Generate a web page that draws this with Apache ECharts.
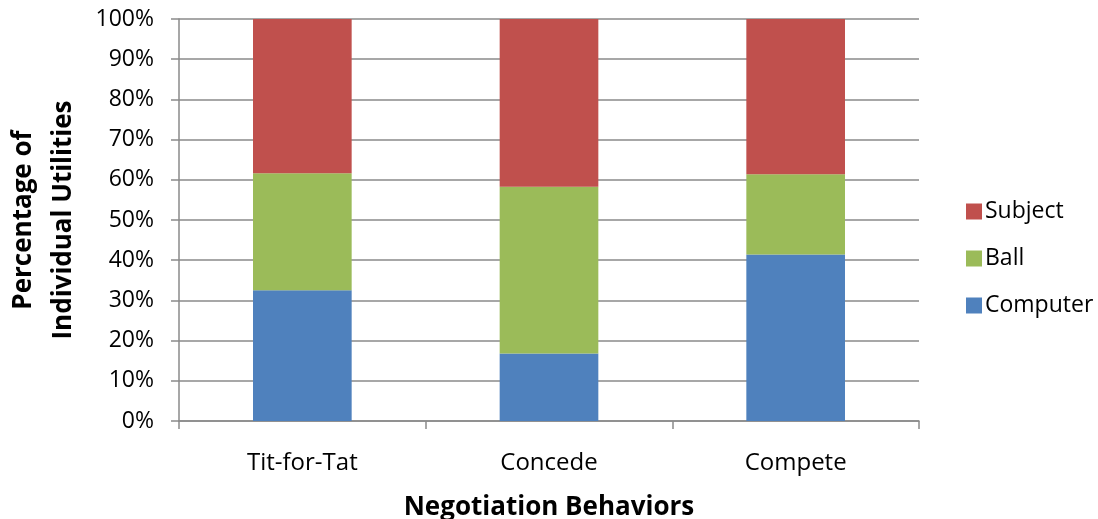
<!DOCTYPE html>
<html>
<head>
<meta charset="utf-8">
<script src="https://cdn.jsdelivr.net/npm/echarts@6/dist/echarts.min.js"></script>
<style>
    html, body {margin: 0; padding: 0; background: #fff;}
    #chart {width: 1098px; height: 519px;}
</style>
</head>
<body>
<div id="chart"></div>
<script>
//类别
var categories = ['Tit-for-Tat', 'Concede', 'Compete'];
//各部分百分比
var computerVals = [32.5, 16.8, 41.4];
var ballVals = [29.1, 41.5, 20.0];
var subjectVals = [38.4, 41.7, 38.6];
//y轴刻度
var yTicks = [0, 10, 20, 30, 40, 50, 60, 70, 80, 90, 100];

var font = 'Open Sans';
var gridColor = '#8a8a8a';

function makeSeries(name, data, color) {
    return {
        name: name,
        type: 'bar',
        stack: 'total',
        barWidth: '40%',
        data: data,
        itemStyle: {color: color}
    };
}

var chart = echarts.init(document.getElementById('chart'));
var option = {
    animation: false,
    grid: {left: 179, right: 179, top: 19, bottom: 98, outerBoundsMode: 'none', containLabel: false},
    legend: {
        orient: 'vertical',
        left: 961,
        top: 195,
        itemWidth: 16,
        itemHeight: 16,
        itemGap: 24,
        icon: 'rect',
        data: ['Subject', 'Ball', 'Computer'],
        textStyle: {fontFamily: font, fontSize: 23, color: '#000', padding: [0, 0, 0, -2]}
    },
    xAxis: {
        type: 'category',
        data: categories,
        name: 'Negotiation Behaviors',
        nameLocation: 'middle',
        nameGap: 74,
        nameTextStyle: {fontFamily: font, fontSize: 26, fontWeight: 'bold', color: '#000'},
        axisLine: {lineStyle: {color: gridColor, width: 1.5}},
        axisTick: {show: true, length: 8, lineStyle: {color: gridColor, width: 1.5}},
        axisLabel: {fontFamily: font, fontSize: 24, color: '#000', margin: 30}
    },
    yAxis: {
        type: 'value',
        min: yTicks[0],
        max: yTicks[yTicks.length - 1],
        interval: 10,
        name: 'Percentage of\nIndividual Utilities',
        nameLocation: 'middle',
        nameRotate: 90,
        nameGap: 95,
        nameTextStyle: {fontFamily: font, fontSize: 26, fontWeight: 'bold', color: '#000', lineHeight: 40},
        axisLine: {show: true, lineStyle: {color: gridColor, width: 1.5}},
        axisTick: {show: true, length: 8, lineStyle: {color: gridColor, width: 1.5}},
        axisLabel: {
            fontFamily: font, fontSize: 23, color: '#000', margin: 25,
            formatter: function (v) { return v + '%'; }
        },
        splitLine: {show: true, lineStyle: {color: gridColor, width: 1.5}}
    },
    series: [
        makeSeries('Computer', computerVals, '#4F81BD'),
        makeSeries('Ball', ballVals, '#9BBB59'),
        makeSeries('Subject', subjectVals, '#C0504D')
    ]
};
chart.setOption(option);
</script>
</body>
</html>
